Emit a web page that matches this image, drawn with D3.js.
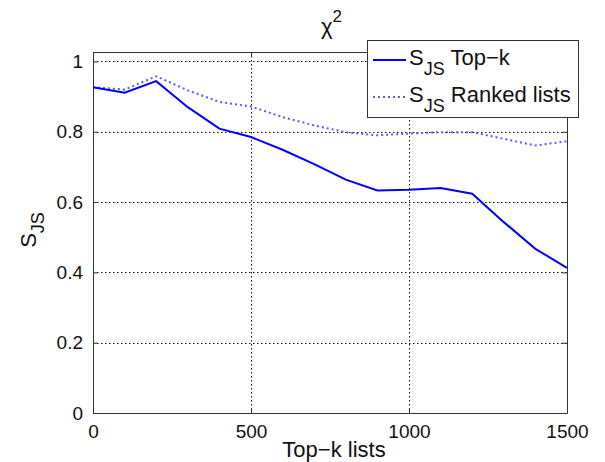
<!DOCTYPE html>
<html>
<head>
<meta charset="utf-8">
<script src="https://cdn.jsdelivr.net/npm/d3@7"></script>
<style>
  body { margin: 0; background: #fff; }
  svg { display: block; font-family: "Liberation Sans", Arial, sans-serif; }
</style>
</head>
<body>
<svg id="chart" width="605" height="462"></svg>
<script>
// k values on the x axis
const kValues = [0, 100, 200, 300, 400, 500, 600, 700, 800, 900, 1000, 1100, 1200, 1300, 1400, 1500];
// S_JS for top-k lists (solid)
const topK = [0.927, 0.911, 0.944, 0.870, 0.809, 0.785, 0.749, 0.708, 0.664, 0.633, 0.635, 0.640, 0.624, 0.543, 0.467, 0.413];
// S_JS for ranked lists (dotted)
const ranked = [0.927, 0.920, 0.958, 0.918, 0.885, 0.872, 0.842, 0.818, 0.799, 0.790, 0.795, 0.799, 0.799, 0.780, 0.761, 0.773];

const xTicks = [0, 500, 1000, 1500];
const yTicks = [0, 0.2, 0.4, 0.6, 0.8, 1];

const svg = d3.select('#chart');

// plot box
const boxLeft = 93, boxRight = 567, boxTop = 52, boxBottom = 413;

const x = d3.scaleLinear().domain([0, 1500]).range([boxLeft, boxRight]);
const y = d3.scaleLinear().domain([0, 1.027]).range([boxBottom, boxTop]);

// grid lines (dotted)
const grid = svg.append('g').attr('stroke', '#111').attr('stroke-width', 1)
    .attr('stroke-dasharray', '1.5,2.5');
grid.selectAll('.gx')
    .data(xTicks.slice(1, -1))
    .enter().append('line')
    .attr('x1', d => Math.round(x(d)) + 0.5).attr('x2', d => Math.round(x(d)) + 0.5)
    .attr('y1', boxTop).attr('y2', boxBottom);
grid.selectAll('.gy')
    .data(yTicks.slice(1))
    .enter().append('line')
    .attr('x1', boxLeft).attr('x2', boxRight)
    .attr('y1', d => Math.round(y(d)) + 0.5).attr('y2', d => Math.round(y(d)) + 0.5);

// axes with inward ticks on all four sides
const tickLen = 5;
const xAxisBottom = d3.axisBottom(x).tickValues(xTicks).tickSizeInner(-tickLen).tickSizeOuter(0).tickPadding(12)
    .tickFormat(d3.format('d'));
const xAxisTop = d3.axisTop(x).tickValues(xTicks).tickSizeInner(-tickLen).tickSizeOuter(0).tickFormat('');
const yAxisLeft = d3.axisLeft(y).tickValues(yTicks).tickSizeInner(-tickLen).tickSizeOuter(0).tickPadding(10)
    .tickFormat(d3.format('~g'));
const yAxisRight = d3.axisRight(y).tickValues(yTicks).tickSizeInner(-tickLen).tickSizeOuter(0).tickFormat('');

function styleAxis(g) {
    g.selectAll('path').attr('stroke', '#333').attr('stroke-width', 1);
    g.selectAll('line').attr('stroke', '#333').attr('stroke-width', 1);
    g.selectAll('text').attr('fill', '#111').style('font-size', '19px')
        .style('font-family', '"Liberation Sans", Arial, sans-serif');
}

svg.append('g').attr('transform', 'translate(0,' + boxBottom + ')').call(xAxisBottom).call(styleAxis);
svg.append('g').attr('transform', 'translate(0,' + boxTop + ')').call(xAxisTop).call(styleAxis);
svg.append('g').attr('transform', 'translate(' + boxLeft + ',0)').call(yAxisLeft).call(styleAxis);
svg.append('g').attr('transform', 'translate(' + boxRight + ',0)').call(yAxisRight).call(styleAxis);

// series lines
const line = d3.line().x((d, i) => x(kValues[i])).y(d => y(d));

svg.append('path')
    .datum(ranked)
    .attr('fill', 'none')
    .attr('stroke', '#5a5aff')
    .attr('stroke-width', 2)
    .attr('stroke-dasharray', '2,3')
    .attr('d', line);

svg.append('path')
    .datum(topK)
    .attr('fill', 'none')
    .attr('stroke', '#0000ff')
    .attr('stroke-width', 2)
    .attr('d', line);

// title
const title = svg.append('text')
    .attr('x', 321).attr('y', 34)
    .attr('fill', '#111')
    .style('font-size', '22px');
title.append('tspan').text('χ');
title.append('tspan').attr('dy', -12).style('font-size', '17px').text('2');

// x label
svg.append('text')
    .attr('x', 334).attr('y', 457)
    .attr('text-anchor', 'middle')
    .attr('fill', '#111')
    .style('font-size', '22px')
    .text('Top−k lists');

// y label
const yl = svg.append('text')
    .attr('transform', 'translate(36,' + 230 + ') rotate(-90)')
    .attr('text-anchor', 'middle')
    .attr('fill', '#111')
    .style('font-size', '22px');
yl.append('tspan').text('S');
yl.append('tspan').attr('dy', 8).style('font-size', '18px').text('JS');

// legend
const legendItems = [
    { label: ' Top−k', dash: null, color: '#0000ff' },
    { label: ' Ranked lists', dash: '2,3', color: '#5a5aff' }
];
const lg = svg.append('g').attr('class', 'legend');
lg.append('rect')
    .attr('x', 367.5).attr('y', 40.5)
    .attr('width', 211).attr('height', 77)
    .attr('fill', '#fff')
    .attr('stroke', '#333')
    .attr('stroke-width', 1);

const rowY = [60, 97];
legendItems.forEach((it, i) => {
    lg.append('line')
        .attr('x1', 373).attr('x2', 406)
        .attr('y1', rowY[i]).attr('y2', rowY[i])
        .attr('stroke', it.color)
        .attr('stroke-width', 2)
        .attr('stroke-dasharray', it.dash);
    const t = lg.append('text')
        .attr('x', 409).attr('y', rowY[i] + 5)
        .attr('fill', '#111')
        .style('font-size', '22px');
    t.append('tspan').text('S');
    t.append('tspan').attr('dy', 10).style('font-size', '18px').text('JS');
    t.append('tspan').attr('dy', -10).style('white-space', 'pre').text(it.label);
});
</script>
</body>
</html>
